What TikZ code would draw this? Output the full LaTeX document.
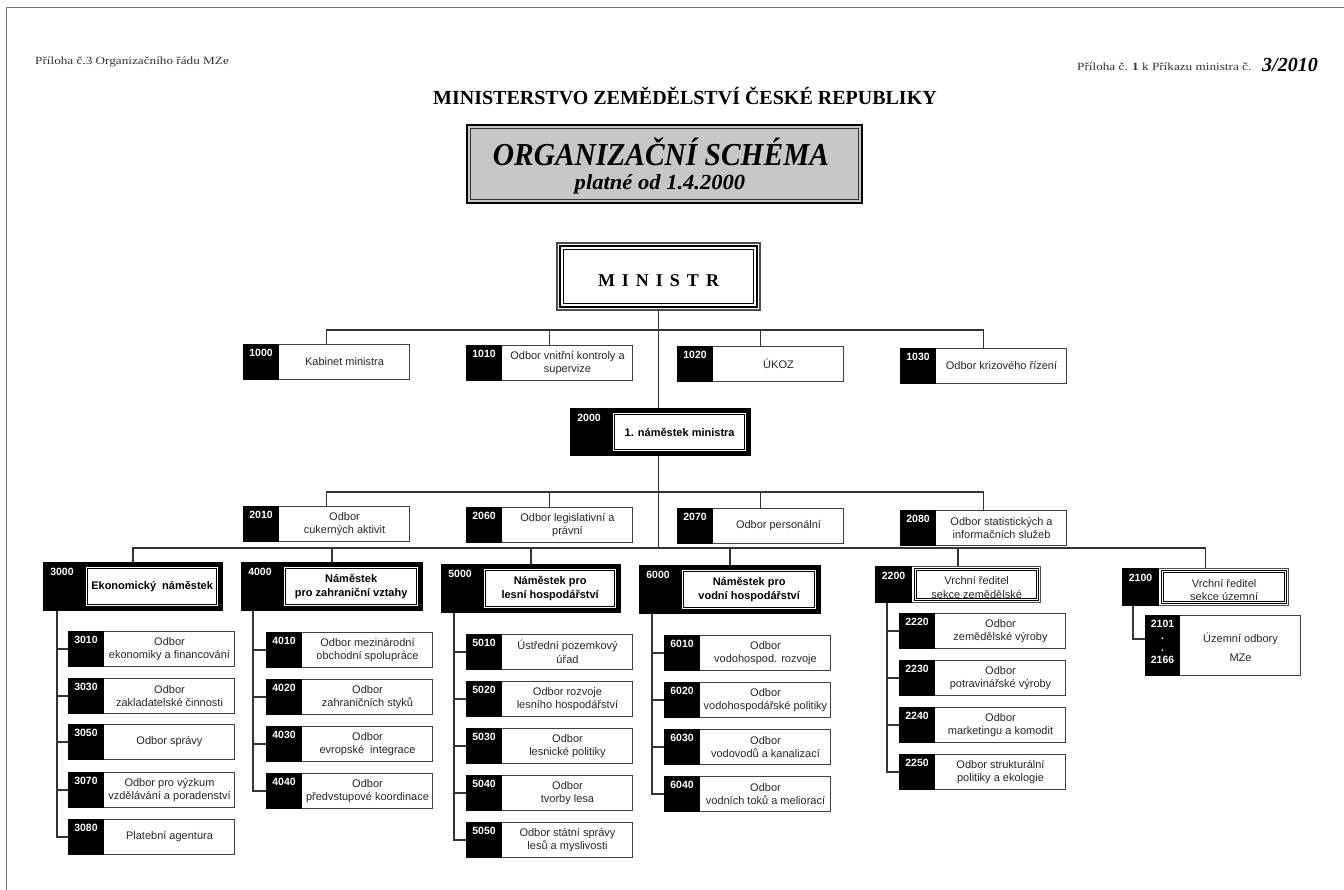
\documentclass[tikz,border=0pt]{standalone}
\usepackage{fontspec}
\setmainfont{Liberation Serif}
\newfontfamily\nar{Liberation Sans}
\newfontfamily\serd[FakeStretch=0.92]{Liberation Serif}
\newfontfamily\sere[FakeStretch=1.05]{Liberation Serif}
\newfontfamily\serw[FakeStretch=1.2]{Liberation Serif}
\tikzset{
  ln/.style={draw=black!80, line width=1.1pt},
  ubox/.style={draw=black!75, line width=1pt, fill=white, minimum width=166pt, minimum height=35pt, inner sep=0pt, anchor=north west},
  numt/.style={text=white, font=\nar\fontsize{10.5}{12.5}\selectfont\bfseries, inner sep=0pt, anchor=north, align=center},
  boxt/.style={font=\nar\fontsize{11}{13.5}\selectfont, align=center, inner sep=0pt, text=black!85},
  headt/.style={font=\nar\fontsize{11}{14}\selectfont\bfseries, align=center, inner sep=0pt},
  hout/.style={fill=black, draw=black, line width=1pt, inner sep=0pt, anchor=north west},
  hout2/.style={fill=white, draw=black!70, line width=1pt, inner sep=0pt, anchor=north west},
  hin/.style={fill=white, draw=black, double=white, double distance=1.3pt, line width=0.7pt, inner sep=0pt},
}
\newcommand\ubox[5]{%
  \node[ubox] (#1) at (#2,#3) {};
  \fill[black] (#1.north west) rectangle ([xshift=36pt]#1.south west);
  \node[numt] at ([xshift=18pt,yshift=-5pt]#1.north west) {#4};
  \node[boxt] at ([xshift=18pt]#1.center) {#5};
}
\newcommand\headbox[7]{%
  \node[hout, minimum width=#4pt, minimum height=#5pt] (#1) at (#2,#3) {};
  \node[hin, minimum width={(#4-48)*1pt}, minimum height={(#5-10)*1pt}, anchor=east] (#1i) at ([xshift=-5pt]#1.east) {};
  \node[numt] at ([xshift=19pt,yshift=-6pt]#1.north west) {#6};
  \node[headt] at (#1i.center) {#7};
}
\newcommand\vheadbox[7]{%
  \node[hout2, minimum width=#4pt, minimum height=#5pt] (#1) at (#2,#3) {};
  \fill[black] (#1.north west) rectangle ([xshift=37pt]#1.south west);
  \node[hin, minimum width={(#4-43)*1pt}, minimum height={(#5-6)*1pt}, anchor=east] (#1i) at ([xshift=-3pt]#1.east) {};
  \node[numt] at ([xshift=18.5pt,yshift=-6pt]#1.north west) {#6};
  \node[boxt] at ([yshift=-3pt]#1i.center) {#7};
}
\begin{document}
\begin{tikzpicture}[x=1pt,y=-1pt]
\useasboundingbox (0,0) rectangle (1344,890);
\fill[white] (0,0) rectangle (1344,890);
\draw[black!55, line width=1pt] (6,890) -- (6,8) -- (1344,8);

% headers
\node[anchor=base west, font=\serw\fontsize{11}{13}\selectfont, text=black!80, inner sep=0pt] (hl) at (35,65) {Příloha č.3 Organizačního řádu MZe};
\node[anchor=base west, font=\serw\fontsize{11}{13}\selectfont, text=black!80, inner sep=0pt] (hr) at (1077,71) {Příloha č. \textbf{1} k Příkazu ministra č.};
\node[anchor=base west, font=\bfseries\itshape\fontsize{20}{22}\selectfont, inner sep=0pt] (hw) at (1262,72) {3/2010};
\node[anchor=base, font=\bfseries\fontsize{20}{22}\selectfont, inner sep=0pt] (title) at (685,105) {MINISTERSTVO ZEMĚDĚLSTVÍ ČESKÉ REPUBLIKY};

% schema box
\node[fill=black!22, draw=black, line width=2.5pt, minimum width=395pt, minimum height=78pt, inner sep=0pt] (schema) at (664.5,164) {};
\draw[black!80, line width=0.8pt] ([shift={(5pt,-5pt)}]schema.north west) rectangle ([shift={(-5pt,5pt)}]schema.south east);
\node[anchor=base, font=\serd\bfseries\itshape\fontsize{32}{34}\selectfont, inner sep=0pt] (t1) at (661,166) {ORGANIZAČNÍ SCHÉMA};
\node[anchor=base, font=\sere\bfseries\itshape\fontsize{21.5}{24}\selectfont, inner sep=0pt] (t2) at (660,190) {platné od 1.4.2000};

% minister
\node[draw=black!70, line width=1.2pt, minimum width=203pt, minimum height=67pt, inner sep=0pt, fill=white] (min) at (658.5,276.5) {};
\draw[black, line width=1.4pt] ([shift={(3.5pt,-3.5pt)}]min.north west) rectangle ([shift={(-3.5pt,3.5pt)}]min.south east);
\draw[black, line width=0.9pt] ([shift={(7.5pt,-7.5pt)}]min.north west) rectangle ([shift={(-7.5pt,7.5pt)}]min.south east);
\node[anchor=base, font=\bfseries\fontsize{18}{20}\selectfont, inner sep=0pt] (mintxt) at (658.5,287) {M\hspace{7pt}I\hspace{7pt}N\hspace{7pt}I\hspace{7pt}S\hspace{7pt}T\hspace{7pt}R};

% level 1
\ubox{u1000}{243}{344}{1000}{Kabinet ministra}
\ubox{u1010}{466}{345}{1010}{Odbor vnitřní kontroly a\\supervize}
\ubox{u1020}{677}{346}{1020}{ÚKOZ}
\ubox{u1030}{900}{348}{1030}{Odbor krizového řízení}

% 2000
\headbox{h2000}{570}{408}{180}{47}{2000}{1. náměstek ministra}

% level 2
\ubox{u2010}{243}{506}{2010}{Odbor\\cukerných aktivit}
\ubox{u2060}{466}{507}{2060}{Odbor legislativní a\\právní}
\ubox{u2070}{677}{508}{2070}{Odbor personální}
\ubox{u2080}{900}{510}{2080}{Odbor statistických a\\informačních služeb}

% level 3 heads
\headbox{h3000}{43}{562}{179}{48}{3000}{Ekonomický\ \ náměstek}
\headbox{h4000}{241}{562}{181}{48}{4000}{Náměstek\\pro zahraniční vztahy}
\headbox{h5000}{441}{564}{179}{48}{5000}{Náměstek pro\\lesní hospodářství}
\headbox{h6000}{639}{565}{181}{48}{6000}{Náměstek pro\\vodní hospodářství}
\vheadbox{h2200}{875}{566}{165}{36}{2200}{Vrchní ředitel\\sekce zemědělské}
\vheadbox{h2100}{1122}{568}{166}{37}{2100}{Vrchní ředitel\\sekce územní}

% column 3000
\ubox{u3010}{68}{631}{3010}{Odbor\\ekonomiky a financování}
\ubox{u3030}{68}{678}{3030}{Odbor\\zakladatelské činnosti}
\ubox{u3050}{68}{724}{3050}{Odbor správy}
\ubox{u3070}{68}{772}{3070}{Odbor pro výzkum\\vzdělávání a poradenství}
\ubox{u3080}{68}{819}{3080}{Platební agentura}

% column 4000
\ubox{u4010}{266}{632}{4010}{Odbor mezinárodní\\obchodní spolupráce}
\ubox{u4020}{266}{679}{4020}{Odbor\\zahraničních styků}
\ubox{u4030}{266}{726}{4030}{Odbor\\evropské\ \ integrace}
\ubox{u4040}{266}{773}{4040}{Odbor\\předvstupové koordinace}

% column 5000
\ubox{u5010}{466}{634}{5010}{Ústřední pozemkový\\úřad}
\ubox{u5020}{466}{681}{5020}{Odbor rozvoje\\lesního hospodářství}
\ubox{u5030}{466}{728}{5030}{Odbor\\lesnické politiky}
\ubox{u5040}{466}{775}{5040}{Odbor\\tvorby lesa}
\ubox{u5050}{466}{822}{5050}{Odbor státní správy\\lesů a myslivosti}

% column 6000
\ubox{u6010}{664}{635}{6010}{Odbor\\vodohospod. rozvoje}
\ubox{u6020}{664}{682}{6020}{Odbor\\vodohospodářské politiky}
\ubox{u6030}{664}{729}{6030}{Odbor\\vodovodů a kanalizací}
\ubox{u6040}{664}{776}{6040}{Odbor\\vodních toků a meliorací}

% column 2200
\ubox{u2220}{899}{613}{2220}{Odbor\\zemědělské výroby}
\ubox{u2230}{899}{660}{2230}{Odbor\\potravinářské výroby}
\ubox{u2240}{899}{707}{2240}{Odbor\\marketingu a komodit}
\ubox{u2250}{899}{754}{2250}{Odbor strukturální\\politiky a ekologie}

% 2101-2166
\node[ubox, minimum width=155pt, minimum height=60pt] (u2101) at (1145,615) {};
\fill[black] (u2101.north west) rectangle ([xshift=35pt]u2101.south west);
\node[numt, font=\nar\fontsize{10.5}{12}\selectfont\bfseries] at ([xshift=17.5pt,yshift=-5pt]u2101.north west) {2101\\.\\.\\2166};
\node[boxt, font=\nar\fontsize{11}{19}\selectfont] at ([xshift=17.5pt,yshift=-2pt]u2101.center) {Územní odbory\\MZe};

% connectors
\coordinate (bus1) at (658.5,330);
\coordinate (bus2) at (658.5,492);
\coordinate (bus3) at (658.5,548);
\draw[ln] (min.south) -- (h2000.north -| min.south);
\draw[ln] (h2000.south -| min.south) -- (bus3);
\draw[ln] (u1000.north) |- (bus1) -| (u1030.north);
\draw[ln] (u1010.north) -- (u1010.north |- bus1);
\draw[ln] (u1020.north) -- (u1020.north |- bus1);
\draw[ln] (u2010.north) |- (bus2) -| (u2080.north);
\draw[ln] (u2060.north) -- (u2060.north |- bus2);
\draw[ln] (u2070.north) -- (u2070.north |- bus2);
\draw[ln] (h3000.north) |- (bus3) -| (h2100.north);
\foreach \n in {4000,5000,6000,2200} \draw[ln] (h\n.north) -- (h\n.north |- bus3);

\coordinate (c3) at ([xshift=14pt]h3000.south west);
\draw[ln] (c3) |- (u3080.west);
\foreach \n in {3010,3030,3050,3070} \draw[ln] (u\n.west) -- (u\n.west -| c3);
\coordinate (c4) at ([xshift=12pt]h4000.south west);
\draw[ln] (c4) |- (u4040.west);
\foreach \n in {4010,4020,4030} \draw[ln] (u\n.west) -- (u\n.west -| c4);
\coordinate (c5) at ([xshift=13pt]h5000.south west);
\draw[ln] (c5) |- (u5050.west);
\foreach \n in {5010,5020,5030,5040} \draw[ln] (u\n.west) -- (u\n.west -| c5);
\coordinate (c6) at ([xshift=13pt]h6000.south west);
\draw[ln] (c6) |- (u6040.west);
\foreach \n in {6010,6020,6030} \draw[ln] (u\n.west) -- (u\n.west -| c6);
\coordinate (c22) at ([xshift=12pt]h2200.south west);
\draw[ln] (c22) |- (u2250.west);
\foreach \n in {2220,2230,2240} \draw[ln] (u\n.west) -- (u\n.west -| c22);
\coordinate (c21) at ([xshift=11pt]h2100.south west);
\draw[ln] (c21) |- ([yshift=-24pt]u2101.north west);
\end{tikzpicture}
\end{document}
